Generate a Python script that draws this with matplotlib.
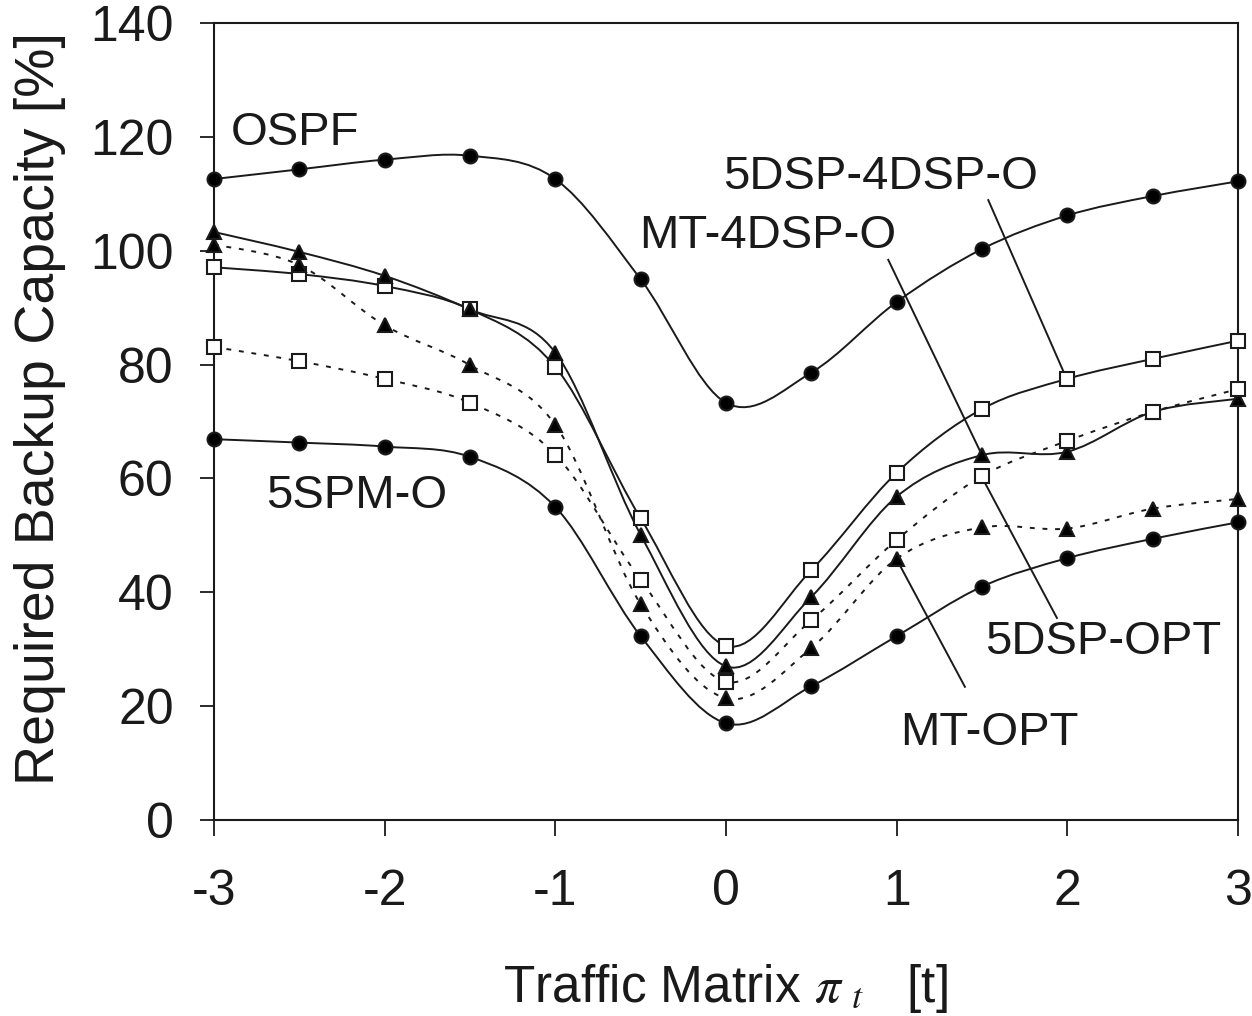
import matplotlib
matplotlib.use("Agg")
import matplotlib.pyplot as plt
from matplotlib.path import Path
from matplotlib.patches import PathPatch

plt.rcParams["font.family"] = ["Liberation Sans", "DejaVu Sans"]
plt.rcParams["mathtext.fontset"] = "stix"

# --- data ---
traffic = [-3, -2.5, -2, -1.5, -1, -0.5, 0, 0.5, 1, 1.5, 2, 2.5, 3]
ospf = [112.6, 114.3, 116.0, 116.7, 112.6, 95.0, 73.3, 78.6, 91.0, 100.3, 106.2, 109.6, 112.2]
spm_o = [66.9, 66.3, 65.6, 63.8, 55.0, 32.3, 17.0, 23.5, 32.3, 41.0, 46.0, 49.4, 52.3]
dsp_4dsp_o = [97.1, 95.9, 93.8, 89.7, 79.6, 53.0, 30.6, 43.9, 61.0, 72.2, 77.5, 81.0, 84.2]
mt_4dsp_o = [103.3, 99.8, 95.6, 89.7, 82.1, 50.1, 27.0, 39.2, 56.8, 64.1, 64.7, 71.7, 74.0]
dsp_opt = [83.1, 80.6, 77.5, 73.3, 64.2, 42.2, 24.3, 35.1, 49.2, 60.4, 66.6, 71.7, 75.7]
mt_opt = [101.1, 97.5, 86.9, 79.9, 69.4, 37.9, 21.4, 30.2, 45.9, 51.4, 51.2, 54.7, 56.4]

x_ticks = [-3, -2, -1, 0, 1, 2, 3]
y_ticks = [0, 20, 40, 60, 80, 100, 120, 140]


def smooth_path(xs, ys):
    # excel-like smoothed line: cubic bezier through every point
    pts = list(zip(xs, ys))
    verts = [pts[0]]
    codes = [Path.MOVETO]
    n = len(pts)
    for i in range(n - 1):
        p0 = pts[i - 1] if i > 0 else pts[i]
        p1 = pts[i]
        p2 = pts[i + 1]
        p3 = pts[i + 2] if i + 2 < n else pts[i + 1]
        c1 = (p1[0] + (p2[0] - p0[0]) / 6, p1[1] + (p2[1] - p0[1]) / 6)
        c2 = (p2[0] - (p3[0] - p1[0]) / 6, p2[1] - (p3[1] - p1[1]) / 6)
        verts += [c1, c2, p2]
        codes += [Path.CURVE4] * 3
    return Path(verts, codes)


fig = plt.figure(figsize=(12.52, 10.16), dpi=100)
ax = fig.add_axes([0.1709, 0.1929, 0.8179, 0.7844])

series = [
    (ospf, "o", "-", "k"),
    (spm_o, "o", "-", "k"),
    (dsp_4dsp_o, "s", "-", "w"),
    (mt_4dsp_o, "^", "-", "k"),
    (dsp_opt, "s", (0, (2.5, 4)), "w"),
    (mt_opt, "^", (0, (2.5, 4)), "k"),
]

for ys, marker, ls, face in series:
    patch = PathPatch(smooth_path(traffic, ys), fill=False, edgecolor="#1a1a1a",
                      lw=1.4, linestyle=ls, zorder=2)
    ax.add_patch(patch)
    ms = 10 if marker != "s" else 9.5
    ax.plot(traffic, ys, linestyle="none", marker=marker, ms=ms,
            mfc=face, mec="#1a1a1a", mew=1.5, zorder=3, clip_on=False)

# series labels with pointer lines
lab_kw = dict(fontsize=34, ha="center", va="center", color="#1a1a1a")
ax.text(-2.525, 120.6, "OSPF", **lab_kw)
ax.text(-2.162, 56.9, "5SPM-O", **lab_kw)
ax.text(0.908, 112.9, "5DSP-4DSP-O", **lab_kw)
ax.text(0.246, 102.6, "MT-4DSP-O", **lab_kw)
ax.text(2.209, 31.3, "5DSP-OPT", **lab_kw)
ax.text(1.541, 15.3, "MT-OPT", **lab_kw)

ax.plot([1.537, 1.986], [108.9, 78.2], color="#1a1a1a", lw=1.4)
ax.plot([0.951, 1.5], [98.4, 64.1], color="#1a1a1a", lw=1.4)
ax.plot([1.5, 1.939], [60.2, 35.5], color="#1a1a1a", lw=1.4)
ax.plot([1.0, 1.400], [45.8, 23.4], color="#1a1a1a", lw=1.4)

ax.set_xlim(-3, 3)
ax.set_ylim(0, 140)
ax.set_xticks(x_ticks)
ax.set_yticks(y_ticks)
ax.set_xticklabels([str(v) for v in x_ticks])
ax.tick_params(axis="x", direction="out", length=11.5, width=1.3, pad=24,
               labelsize=36, colors="#1a1a1a")
ax.tick_params(axis="y", direction="out", length=10, width=1.3, pad=19,
               labelsize=36, colors="#1a1a1a")
for sp in ax.spines.values():
    sp.set_linewidth(1.5)
    sp.set_color("#1a1a1a")

ax.set_xlabel(r"Traffic Matrix $\pi_{\;\,t}$   [t]", fontsize=37, color="#1a1a1a")
ax.xaxis.set_label_coords(0.499, -0.228)
ax.xaxis.label.set_va("baseline")
ax.set_ylabel("Required Backup Capacity [%]", fontsize=40, color="#1a1a1a")
ax.yaxis.set_label_coords(-0.170, 0.516)
ax.yaxis.label.set_va("center")

fig.savefig("out.png", dpi=100)
